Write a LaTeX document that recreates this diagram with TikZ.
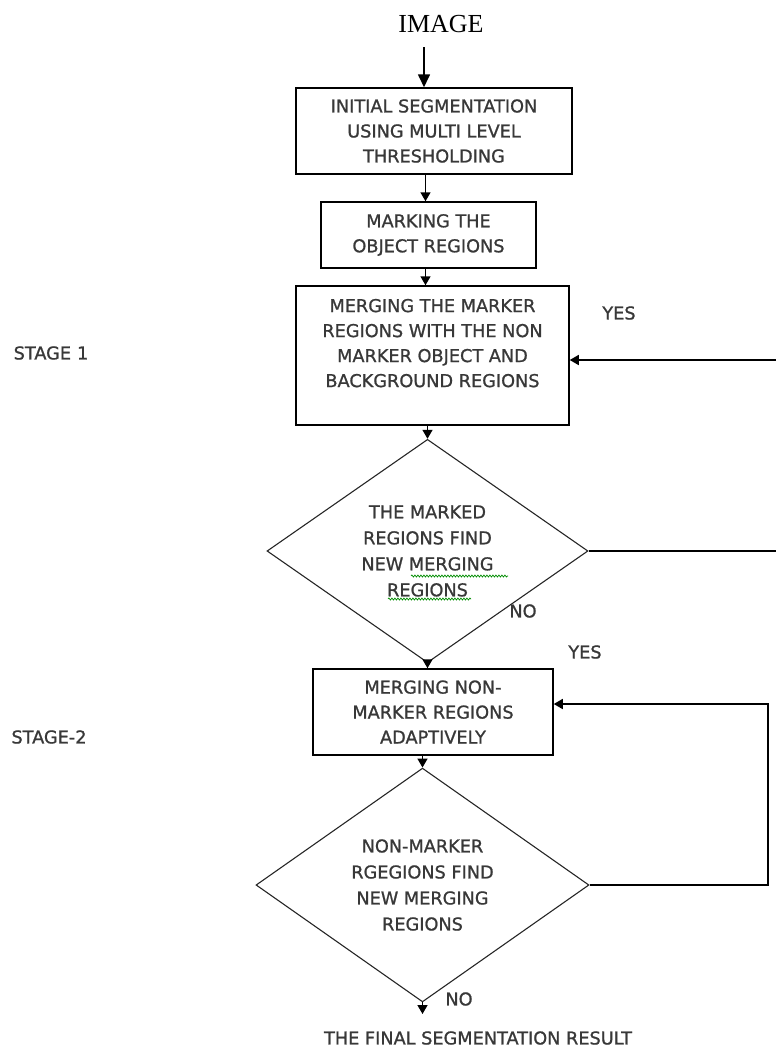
\documentclass[tikz,border=0pt]{standalone}
\usepackage{fontspec}
\usetikzlibrary{shapes.geometric,arrows.meta,decorations.pathmorphing}
\newfontfamily\dvfont[FakeBold=1]{DejaVu Sans}
\newfontfamily\serfont{Liberation Serif}
\definecolor{txt}{gray}{0.22}
\tikzset{
  procbox/.style={draw=black, line width=1.5pt, inner sep=0pt, font=\dvfont\fontsize{17.7}{25}\selectfont, text=txt, align=center},
  decbox/.style={draw=black!85, line width=1.1pt, shape=diamond, inner sep=0pt, font=\dvfont\fontsize{17.7}{26}\selectfont, text=txt, align=center},
  lbl/.style={font=\dvfont\fontsize{17.7}{20}\selectfont, text=txt, inner sep=0pt},
  arr/.style={line width=1.5pt, -{Triangle[width=10pt,length=9pt]}},
  bigarr/.style={line width=1.7pt, -{Triangle[width=12pt,length=13pt]}},
  squig/.style={draw=green!55!black, line width=0.7pt, decorate, decoration={snake, segment length=3pt, amplitude=1pt}},
}
\begin{document}
\begin{tikzpicture}[x=1pt,y=-1pt]
\useasboundingbox (0,0) rectangle (776,1047);
\clip (0,0) rectangle (776,1047);
% title
\node[font=\serfont\fontsize{26}{30}\selectfont, inner sep=0pt] (img) at (441,24) {IMAGE};
\coordinate (imgout) at (424,47);
% process boxes
\node[procbox, minimum width=276pt, minimum height=86pt] (box1) at (434,131)
  {INITIAL SEGMENTATION\\USING MULTI LEVEL\\THRESHOLDING};
\node[procbox, minimum width=215pt, minimum height=66pt] (box2) at (428.5,235)
  {MARKING THE\\OBJECT REGIONS};
\node[procbox, minimum width=273pt, minimum height=139pt] (box3) at (432.5,355.5)
  {MERGING THE MARKER\\REGIONS WITH THE NON\\MARKER OBJECT AND\\BACKGROUND REGIONS\\\mbox{}};
\node[decbox, minimum width=321pt, minimum height=204pt] (dia1) at (427.5,551)
  {THE MARKED\\REGIONS FIND\\NEW MERGING\\REGIONS};
\node[procbox, minimum width=240pt, minimum height=86pt] (box4) at (433,712)
  {MERGING NON-\\MARKER REGIONS\\ADAPTIVELY};
\node[decbox, minimum width=333pt, minimum height=208pt] (dia2) at (422.5,885)
  {NON-MARKER\\RGEGIONS FIND\\NEW MERGING\\REGIONS};
\coordinate (fin) at (422.5,1014);
\node[lbl] (result) at (478,1038) {THE FINAL SEGMENTATION RESULT};
% spell-check squiggles
\coordinate (sqa1) at (411,576);
\coordinate (sqa2) at (508,576);
\coordinate (sqb1) at (388,599);
\coordinate (sqb2) at (471,599);
\draw[squig] (sqa1) -- (sqa2);
\draw[squig] (sqb1) -- (sqb2);
% labels
\node[lbl] (yes1) at (619,313) {YES};
\node[lbl] (no1) at (523,611) {NO};
\node[lbl] (yes2) at (585,652) {YES};
\node[lbl] (no2) at (459,999) {NO};
\node[lbl] (stage1) at (51,353) {STAGE\hspace{6pt}1};
\node[lbl] (stage2) at (49,737) {STAGE-2};
% connectors
\coordinate (sp) at (425.5,0);
\draw[bigarr] (imgout) -- (box1.north -| imgout);
\draw[arr] (box1.south -| sp) -- (box2.north -| sp);
\draw[arr] (box2.south -| sp) -- (box3.north -| sp);
\draw[arr] (box3.south -| dia1.north) -- (dia1.north);
\draw[arr] (dia1.south) -- (box4.north -| dia1.south);
\draw[arr] (box4.south -| dia2.north) -- (dia2.north);
\draw[arr] (dia2.south) -- (fin);
% loops
\coordinate (r1) at (781,360);
\coordinate (r2) at (768,704);
\draw[arr] (dia1.east) -| (r1) -- (box3.east |- r1);
\draw[arr] (dia2.east) -| (r2) -- (box4.east |- r2);
\end{tikzpicture}
\end{document}
